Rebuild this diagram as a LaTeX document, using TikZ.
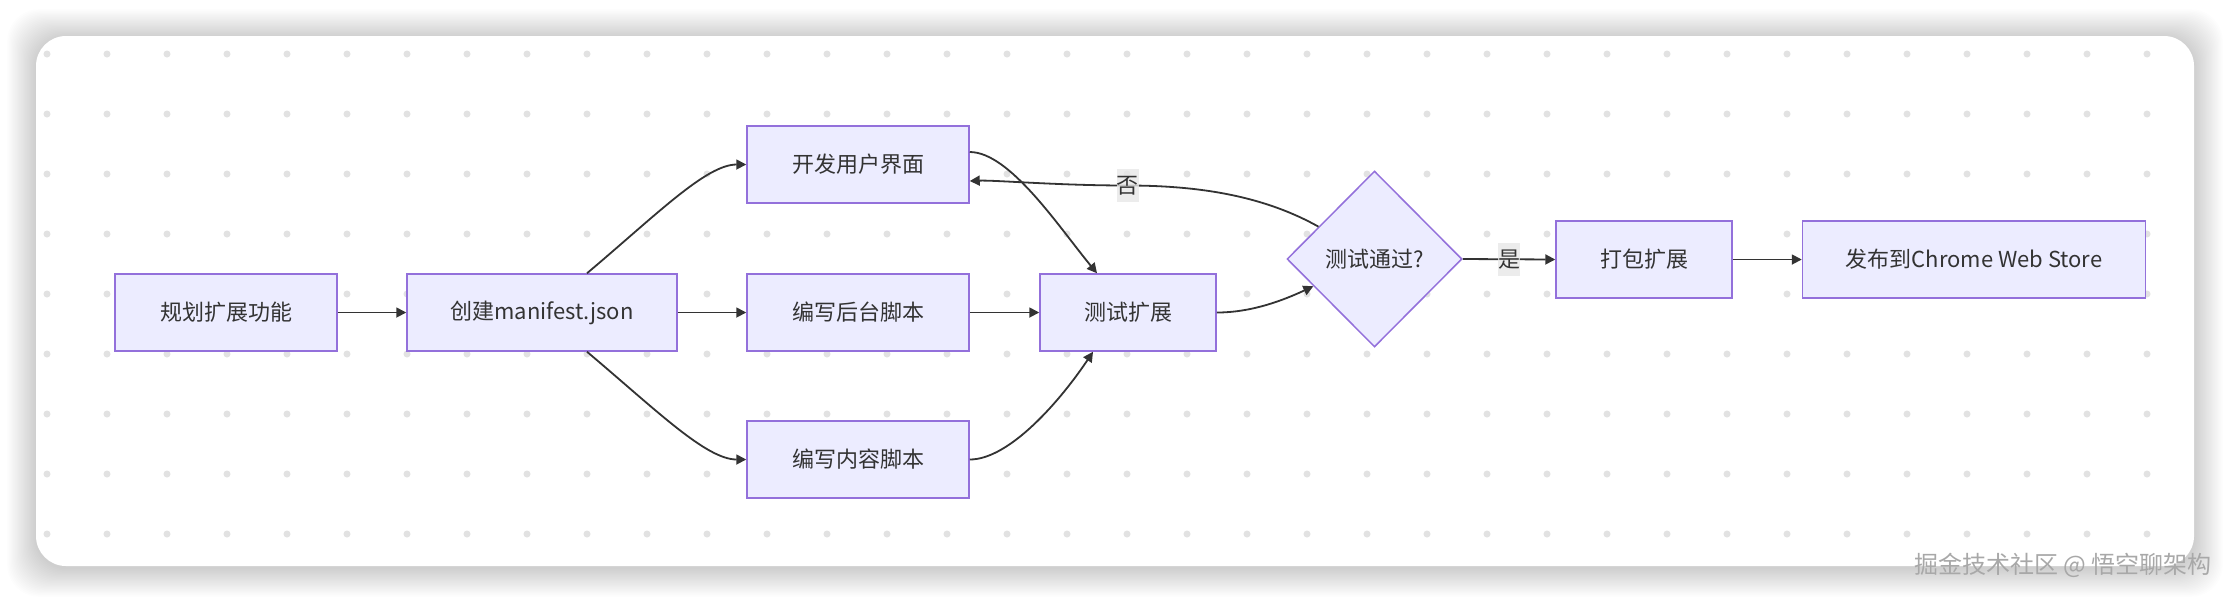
\documentclass[tikz,border=0pt]{standalone}
\usepackage{fontspec}
\setmainfont{Noto Sans CJK SC}
\usetikzlibrary{arrows.meta}
\usetikzlibrary{shapes.geometric}
\usetikzlibrary{positioning}
\usetikzlibrary{calc}

\definecolor{boxfill}{HTML}{ECECFF}
\definecolor{boxline}{HTML}{9370DB}
\definecolor{inkgray}{HTML}{333333}
\definecolor{dotgray}{HTML}{E2E2E2}
\definecolor{labelbg}{HTML}{E8E8E8}
\definecolor{markgray}{HTML}{A8A8A8}

\begin{document}
\begin{tikzpicture}[x=0.5pt,y=-0.5pt,
  stepbox/.style={draw=boxline,fill=boxfill,line width=0.75pt,text=inkgray,
    minimum height=38.5pt,inner sep=0pt,font=\fontsize{11}{13}\selectfont},
  decision/.style={diamond,draw=boxline,fill=boxfill,line width=0.75pt,text=inkgray,
    minimum width=87.5pt,minimum height=88pt,inner sep=0pt,font=\fontsize{11}{13}\selectfont},
  flow/.style={draw=inkgray,line width=0.9pt,-{Triangle[length=5pt,width=5pt]}},
  edgelabel/.style={fill=labelbg,fill opacity=0.8,text opacity=1,text=inkgray,
    inner sep=0pt,minimum width=11pt,minimum height=16.5pt,font=\fontsize{11}{13}\selectfont}]
  \useasboundingbox (0,0) rectangle (2230,602);

  % card with a soft shadow
  \foreach \s in {1,...,24}
    \fill[black,opacity=0.0065,rounded corners=16pt]
      (36-1.2*\s,38-1.2*\s) rectangle (2194+1.2*\s,568+1.2*\s);
  \fill[white,rounded corners=15pt] (36,36) rectangle (2194,566);

  % dot grid
  \foreach \i in {0,...,35}
    \foreach \j in {0,...,8}
      \fill[dotgray] (47+60*\i,54+60*\j) circle[radius=1.75pt];

  \node[stepbox,minimum width=111pt] (plan) at (226,312.5) {规划扩展功能};
  \node[stepbox,minimum width=135pt] (manifest) at (542,312.5) {创建manifest.json};
  \node[stepbox,minimum width=111pt] (ui) at (858,164.5) {开发用户界面};
  \node[stepbox,minimum width=111pt] (bg) at (858,312.5) {编写后台脚本};
  \node[stepbox,minimum width=111pt] (content) at (858,459.5) {编写内容脚本};
  \node[stepbox,minimum width=88pt] (test) at (1128,312.5) {测试扩展};
  \node[decision] (pass) at (1374.5,259) {测试通过?};
  \node[stepbox,minimum width=88pt] (pack) at (1644,259.5) {打包扩展};
  \node[stepbox,minimum width=171.5pt] (publish) at (1974,259.5) {发布到Chrome Web Store};

  \draw[flow] (plan) -- (manifest);
  \draw[flow] (manifest) -- (bg);
  \draw[flow] ([xshift=22.5pt]manifest.north) .. controls +(70,-59) and +(-40,0) .. (ui.west);
  \draw[flow] ([xshift=22.5pt]manifest.south) .. controls +(70,59) and +(-40,0) .. (content.west);

  \draw[flow] ([yshift=6.25pt]ui.east) .. controls +(40,0) and +(-38,-46) .. ([xshift=-15.5pt]test.north);
  \draw[flow] (bg) -- (test);
  \draw[flow] (content.east) .. controls +(40,0) and +(-32,48) .. ([xshift=-17.5pt]test.south);

  \draw[flow] (test.east) .. controls +(35,0) and +(-30,14) .. (pass.204);

  % the way back
  \coordinate (nolbl) at (1127.5,185.5);
  \draw[flow] (pass.150) .. controls +(-50,-28) and +(80,0) .. (nolbl)
    .. controls +(-70,0) and +(25,-1) .. ([yshift=-8.25pt]ui.east);
  \node[edgelabel] (no) at (nolbl) {否};

  \draw[flow] (pass.east) -- (pack.west) node[edgelabel,midway] (yes) {是};
  \draw[flow] (pack) -- (publish);

  \node[anchor=east,text=markgray,inner sep=0pt,font=\fontsize{12}{14}\selectfont]
    (mark) at (2212,565) {掘金技术社区 @ 悟空聊架构};
\end{tikzpicture}
\end{document}
